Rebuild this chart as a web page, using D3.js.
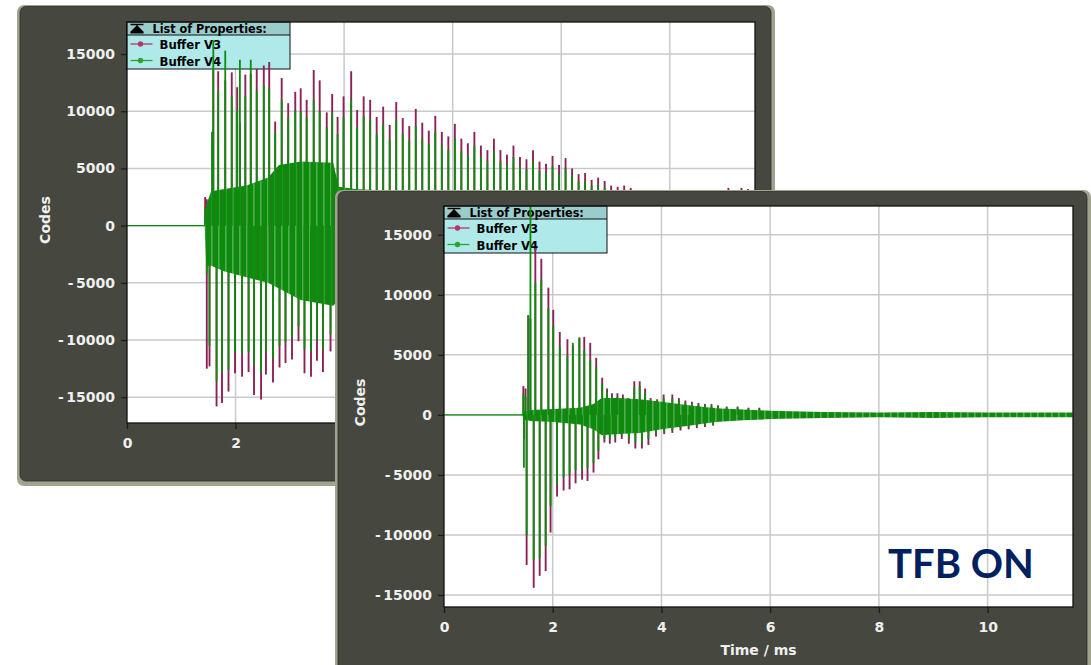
<!DOCTYPE html>
<html><head><meta charset="utf-8">
<script src="https://cdn.jsdelivr.net/npm/d3@7"></script>
<style>body{margin:0;background:#fff}svg{display:block}</style>
</head><body>
<svg id="c" width="1091" height="665"></svg>
<script>
// ---------- shared labels ----------
const xTicks = [0, 2, 4, 6, 8, 10];
const yTicks = [-15000, -10000, -5000, 0, 5000, 10000, 15000];
const seriesNames = ["Buffer V3", "Buffer V4"];
const legendTitle = "List of Properties:";
const xLabel = "Time / ms";
const yLabel = "Codes";
const annotation = "TFB ON";
const xMax = 11.57;

// ---------- TFB OFF (back window) ----------
const offUpTime = [1.44,1.47,1.57,1.59,1.68,1.81,1.93,2.03,2.08,2.18,
  2.28,2.39,2.52,2.62,2.73,2.85,2.97,3.10,3.20,3.31,
  3.44,3.55,3.68,3.78,3.88,3.99,4.13,4.24,4.36,4.48,
  4.60,4.72,4.84,4.96,5.08,5.20,5.32,5.44,5.56,5.68,
  5.80,5.92,6.04,6.16,6.28,6.40,6.52,6.64,6.76,6.88,
  7.00,7.12,7.24,7.36,7.48,7.60,7.72,7.84,7.96,8.08,
  8.20,8.32,8.44,8.56,8.68,8.80,8.92,9.04,9.16,9.28,
  9.40,9.52,9.64,9.76,9.88,10.00,10.12,10.24,10.36,10.48,
  10.60,10.72,10.84,10.96,11.08,11.20,11.32,11.44];
const offUpV3 = [2500,2300,8200,13600,13500,12700,13400,12100,9000,13200,
  13300,13700,14000,14300,9100,12900,10700,11700,12000,11000,
  13600,12700,9900,11500,9500,11300,13500,10100,11300,11000,
  9500,10400,8800,10800,9400,8700,10200,9000,8300,9600,
  8200,7800,8900,7600,7200,8200,7000,6600,7600,6600,
  6200,7000,6000,5800,6600,5600,5400,6100,5300,5900,
  5000,4500,4600,4000,4200,3900,3500,3400,3500,3300,
  3100,3000,2700,2600,2800,2500,2700,2600,2500,2700,
  2600,2800,2900,3100,3300,3100,3300,3200];
const offUpV4 = [1500,1200,8200,16200,11800,15300,11300,10100,14500,11300,
  14500,11800,12300,12000,8200,11000,9500,10000,10000,9500,
  11000,10000,8600,9800,8000,9500,11000,8600,9600,9300,
  8000,8800,7500,9200,8000,7400,8700,7600,7100,8200,
  7000,6600,7600,6500,6100,7000,6000,5600,6500,5600,
  5300,6000,5100,4900,5600,4800,4600,5200,4500,5000,
  4300,3900,3900,3500,3600,3300,3000,2900,3000,2800,
  2700,2600,2300,2200,2400,2100,2300,2200,2100,2300,
  2200,2400,2500,2700,2900,2700,2800,2800];
const offDownTime = [1.47,1.52,1.65,1.75,1.87,1.99,2.12,2.24,2.34,2.47,2.56,2.69,
  2.81,2.92,3.04,3.16,3.27,3.39,3.50,3.61,3.75,3.86,3.98,4.10];
const offDownV3 = [-12500,-12300,-15800,-15500,-14500,-12900,-13200,-12800,-14800,-15200,-13000,-13700,
  -12400,-12000,-11700,-10100,-12900,-13200,-11800,-12800,-11000,-12000,-11500,-11000];
const offDownV4 = [-4200,-10500,-13600,-12800,-12600,-11000,-11200,-11000,-12200,-12800,-11000,-11600,
  -10500,-10200,-9800,-8800,-10800,-11000,-10000,-10800,-9500,-10000,-9800,-9300];
const offCoreTime = [0,1.43,1.46,1.55,1.8,2.2,2.6,2.8,3.2,3.8,3.9,4.2,5,6,8,10,11.57];
const offCoreHigh = [0,0,1800,3000,3200,3500,4200,5300,5600,5500,3400,3200,3000,2700,2400,2200,2000];
const offCoreLow  = [0,0,-3500,-3500,-4000,-4500,-5000,-5500,-6500,-7000,-6500,-6000,-5000,-4000,-3500,-3000,-2800];

// ---------- TFB ON (front window) ----------
const onUpTime = [1.46,1.50,1.55,1.59,1.68,1.79,1.92,2.01,2.13,2.27,
  2.37,2.49,2.58,2.69,2.80,2.91,3.00,3.09,3.19,3.29,
  3.39,3.50,3.60,3.70,3.80,3.92,4.04,4.20,4.32,4.44,
  4.56,4.68,4.80,4.92,5.04,5.20,5.40,5.60,5.80];
const onUpV3 = [2400,2200,8300,8000,13900,13000,10600,8750,6900,6300,
  5800,6450,6500,6000,4750,3100,2200,1800,1800,1700,
  1400,2800,2800,2200,1400,1300,1700,1700,1400,1200,
  1100,1000,900,900,800,700,700,600,600];
const onUpV4 = [1800,1500,8300,17400,11000,11250,8900,7400,5700,4900,
  6000,6400,5400,4600,4000,2600,1900,1500,1500,1400,
  1200,2300,2400,1900,1200,1100,1400,1400,1200,1000,
  900,850,800,750,700,600,600,500,500];
const onDownTime = [1.47,1.52,1.65,1.76,1.87,1.96,2.08,2.20,2.31,2.42,
  2.54,2.64,2.75,2.84,2.95,3.05,3.15,3.27,3.40,3.52,
  3.64,3.76,3.90,4.05,4.20,4.35,4.50,4.65,4.80,4.95];
const onDownV3 = [-2000,-12500,-14400,-13400,-13000,-9800,-6800,-6300,-6200,-5700,
  -5400,-5500,-4800,-3700,-2300,-2400,-2300,-2000,-2400,-2800,
  -2800,-2500,-1800,-1600,-1500,-1300,-1200,-1100,-1000,-900];
const onDownV4 = [-4400,-10000,-12100,-11900,-10900,-7600,-5800,-5200,-5000,-4600,
  -4500,-4400,-4000,-3000,-2000,-2000,-1900,-1700,-2000,-2300,
  -2400,-2000,-1500,-1400,-1300,-1100,-1000,-900,-850,-800];
const onCoreTime = [0,1.44,1.47,1.6,2.0,2.5,2.75,2.9,3.2,3.6,4.0,4.5,5.0,5.5,6.0,7.0,8.0,9.0,10.0,11.57];
const onCoreHigh = [0,0,300,400,500,600,900,1400,1400,1300,1100,800,550,450,350,250,200,250,200,200];
const onCoreLow  = [0,0,-400,-500,-600,-800,-1200,-1700,-1600,-1500,-1200,-900,-600,-450,-350,-250,-200,-250,-200,-200];

// ---------- styling ----------
const C_V3 = "#8c2256", C_V4 = "#0c8c0c", C_V3L = "#b0366e", C_V4L = "#2aa52a";
const DARK = "#46483f", LIGHT = "#a1a38f", TXT = "#f0f0f0";
const FONT = "'DejaVu Sans', sans-serif";
const LFONT = "'DejaVu Sans Condensed', 'DejaVu Sans', sans-serif";

const svg = d3.select("#c");
svg.append("rect").attr("width",1091).attr("height",665).attr("fill","#fff");

// striped fill for the dense oscillation band
const defs = svg.append("defs");
const pat = defs.append("pattern").attr("id", "band").attr("patternUnits", "userSpaceOnUse").attr("width", 7).attr("height", 20);
pat.append("rect").attr("width", 7).attr("height", 20).attr("fill", C_V4);
pat.append("rect").attr("x", 1.5).attr("width", 0.8).attr("height", 20).attr("fill", "#fff").attr("opacity", 0.55);
pat.append("rect").attr("x", 4.8).attr("width", 0.6).attr("height", 20).attr("fill", "#7a3a50").attr("opacity", 0.5);

const zip = (t, a) => t.map((d, i) => [d, a[i]]);

function panel(cfg, data) {
  const g = svg.append("g");
  const f = cfg.frame;
  g.append("rect").attr("x", f.x).attr("y", f.y).attr("width", f.w).attr("height", f.h)
    .attr("rx", 7).attr("fill", LIGHT);
  g.append("rect").attr("x", f.x + 3).attr("y", f.y + 1.5).attr("width", f.w - 7).attr("height", f.h - 6.5)
    .attr("rx", 6).attr("fill", DARK).attr("stroke", "#2c2e28").attr("stroke-width", 0.8);

  const p = cfg.plot;
  const x = d3.scaleLinear().domain([0, xMax]).range([p.x0, p.x1]);
  const y = d3.scaleLinear().domain(cfg.yDomain).range([p.y1, p.y0]);

  g.append("rect").attr("x", p.x0).attr("y", p.y0).attr("width", p.x1 - p.x0).attr("height", p.y1 - p.y0).attr("fill", "#fff");
  const clipId = "clip" + cfg.id;
  defs.append("clipPath").attr("id", clipId).append("rect")
    .attr("x", p.x0).attr("y", p.y0).attr("width", p.x1 - p.x0).attr("height", p.y1 - p.y0);

  // grid
  g.append("g").selectAll("line").data(xTicks.filter(d => d > 0)).join("line")
    .attr("x1", d => x(d)).attr("x2", d => x(d)).attr("y1", p.y0).attr("y2", p.y1)
    .attr("stroke", "#c9c9c9").attr("stroke-width", 1.5);
  g.append("g").selectAll("line").data(yTicks).join("line")
    .attr("y1", d => y(d)).attr("y2", d => y(d)).attr("x1", p.x0).attr("x2", p.x1)
    .attr("stroke", "#c9c9c9").attr("stroke-width", 1.5);

  // axes
  const ya = g.append("g").attr("transform", `translate(${p.x0},0)`)
    .call(d3.axisLeft(y).tickValues(yTicks).tickFormat(d3.format("d")).tickSize(6).tickSizeOuter(0).tickPadding(6));
  const xa = g.append("g").attr("transform", `translate(0,${p.y1})`)
    .call(d3.axisBottom(x).tickValues(xTicks).tickFormat(d3.format("d")).tickSize(6).tickSizeOuter(0).tickPadding(9));
  [ya, xa].forEach(a => {
    a.select(".domain").remove();
    a.selectAll(".tick line").attr("stroke", "#1b1b1b").attr("stroke-width", 1.3);
    a.selectAll("text").attr("fill", TXT).attr("font-family", FONT).attr("font-weight", "bold").attr("font-size", 14);
  });
  ya.selectAll(".tick text").each(function(d) {
    if (d < 0) {
      const t = d3.select(this); t.text(null);
      t.append("tspan").text("-");
      t.append("tspan").attr("dx", 2.5).text(String(Math.abs(d)));
    }
  });

  // legend
  const lx = p.x0 - 0.5, ly = p.y0, lw = 163.5;
  const lg = g.append("g");
  lg.append("rect").attr("x", lx).attr("y", ly).attr("width", lw).attr("height", 47).attr("fill", "#afe9e9");
  lg.append("rect").attr("x", lx).attr("y", ly).attr("width", lw).attr("height", 13).attr("fill", "#9bcccc");
  lg.append("rect").attr("x", lx).attr("y", ly).attr("width", lw).attr("height", 47).attr("fill", "none").attr("stroke", "#111").attr("stroke-width", 1);
  lg.append("line").attr("x1", lx).attr("x2", lx + lw).attr("y1", ly + 13).attr("y2", ly + 13).attr("stroke", "#111");
  lg.append("path").attr("d", `M${lx+4},${ly+2.5}H${lx+17}M${lx+10.5},${ly+4}L${lx+16},${ly+9.5}H${lx+5}ZM${lx+4},${ly+10.8}H${lx+17}`)
    .attr("stroke", "#000").attr("stroke-width", 1.3).attr("fill", "#000");
  lg.append("text").attr("x", lx + 26).attr("y", ly + 11).text(legendTitle)
    .attr("font-family", LFONT).attr("font-weight", "bold").attr("font-size", 12.5).attr("fill", "#000");
  seriesNames.forEach((n, i) => {
    const cy = ly + 22 + i * 16.5;
    const col = i === 0 ? C_V3L : C_V4L;
    lg.append("line").attr("x1", lx + 4).attr("x2", lx + 26).attr("y1", cy).attr("y2", cy).attr("stroke", col).attr("stroke-width", 1.3);
    lg.append("circle").attr("cx", lx + 14).attr("cy", cy).attr("r", 2.7).attr("fill", col);
    lg.append("text").attr("x", lx + 33).attr("y", cy + 5).text(n)
      .attr("font-family", LFONT).attr("font-weight", "bold").attr("font-size", 13).attr("fill", "#000");
  });

  // data
  const dg = g.append("g").attr("clip-path", `url(#${clipId})`);
  const spikes = (pts, col, w) => dg.append("g").selectAll("line").data(pts).join("line")
    .attr("x1", d => x(d[0])).attr("x2", d => x(d[0])).attr("y1", y(0)).attr("y2", d => y(d[1]))
    .attr("stroke", col).attr("stroke-width", w);
  spikes(zip(data.upT, data.upV3), C_V3, 1.9);
  spikes(zip(data.downT, data.downV3), C_V3, 1.9);
  // zero line of V4 across the record
  dg.append("path").datum(data.coreT)
    .attr("d", d3.line().x(t => x(t)).y(() => y(0)))
    .attr("stroke", C_V4).attr("stroke-width", 1.2).attr("fill", "none");
  const area = d3.area().x(d => x(d[0])).y0(d => y(d[2])).y1(d => y(d[1]));
  dg.append("path").datum(data.coreT.map((t, i) => [t, data.coreH[i], data.coreL[i]]))
    .attr("d", area).attr("fill", "url(#band)");
  spikes(zip(data.upT, data.upV4), C_V4, 1.8);
  spikes(zip(data.downT, data.downV4), C_V4, 1.8);

  // plot border
  g.append("rect").attr("x", p.x0).attr("y", p.y0).attr("width", p.x1 - p.x0).attr("height", p.y1 - p.y0)
    .attr("fill", "none").attr("stroke", "#111").attr("stroke-width", 1.3);

  // axis titles
  g.append("text").attr("transform", `translate(${cfg.codes[0]},${cfg.codes[1]}) rotate(-90)`)
    .attr("text-anchor", "middle").text(yLabel)
    .attr("fill", TXT).attr("font-family", FONT).attr("font-weight", "bold").attr("font-size", 14);
  if (cfg.xTitle) {
    g.append("text").attr("x", (p.x0 + p.x1) / 2).attr("y", cfg.xTitle).attr("text-anchor", "middle").text(xLabel)
      .attr("fill", TXT).attr("font-family", FONT).attr("font-weight", "bold").attr("font-size", 14);
  }
}

panel({ id: 1, frame: { x: 17, y: 5, w: 758, h: 481 }, plot: { x0: 127, x1: 755, y0: 22, y1: 423 },
  yDomain: [-17250, 17800], codes: [49.5, 220] },
  { upT: offUpTime, upV3: offUpV3, upV4: offUpV4, downT: offDownTime, downV3: offDownV3, downV4: offDownV4,
    coreT: offCoreTime, coreH: offCoreHigh, coreL: offCoreLow });

panel({ id: 2, frame: { x: 335, y: 190, w: 756, h: 500 }, plot: { x0: 444, x1: 1073, y0: 206, y1: 607 },
  yDomain: [-16000, 17400], codes: [365, 402.5], xTitle: 655 },
  { upT: onUpTime, upV3: onUpV3, upV4: onUpV4, downT: onDownTime, downV3: onDownV3, downV4: onDownV4,
    coreT: onCoreTime, coreH: onCoreHigh, coreL: onCoreLow });

svg.append("text").attr("x", 888).attr("y", 578).text(annotation)
  .attr("font-family", "Lato, 'Open Sans', sans-serif").attr("font-weight", "bold").attr("font-size", 40).attr("fill", "#002060");
</script>
</body></html>
